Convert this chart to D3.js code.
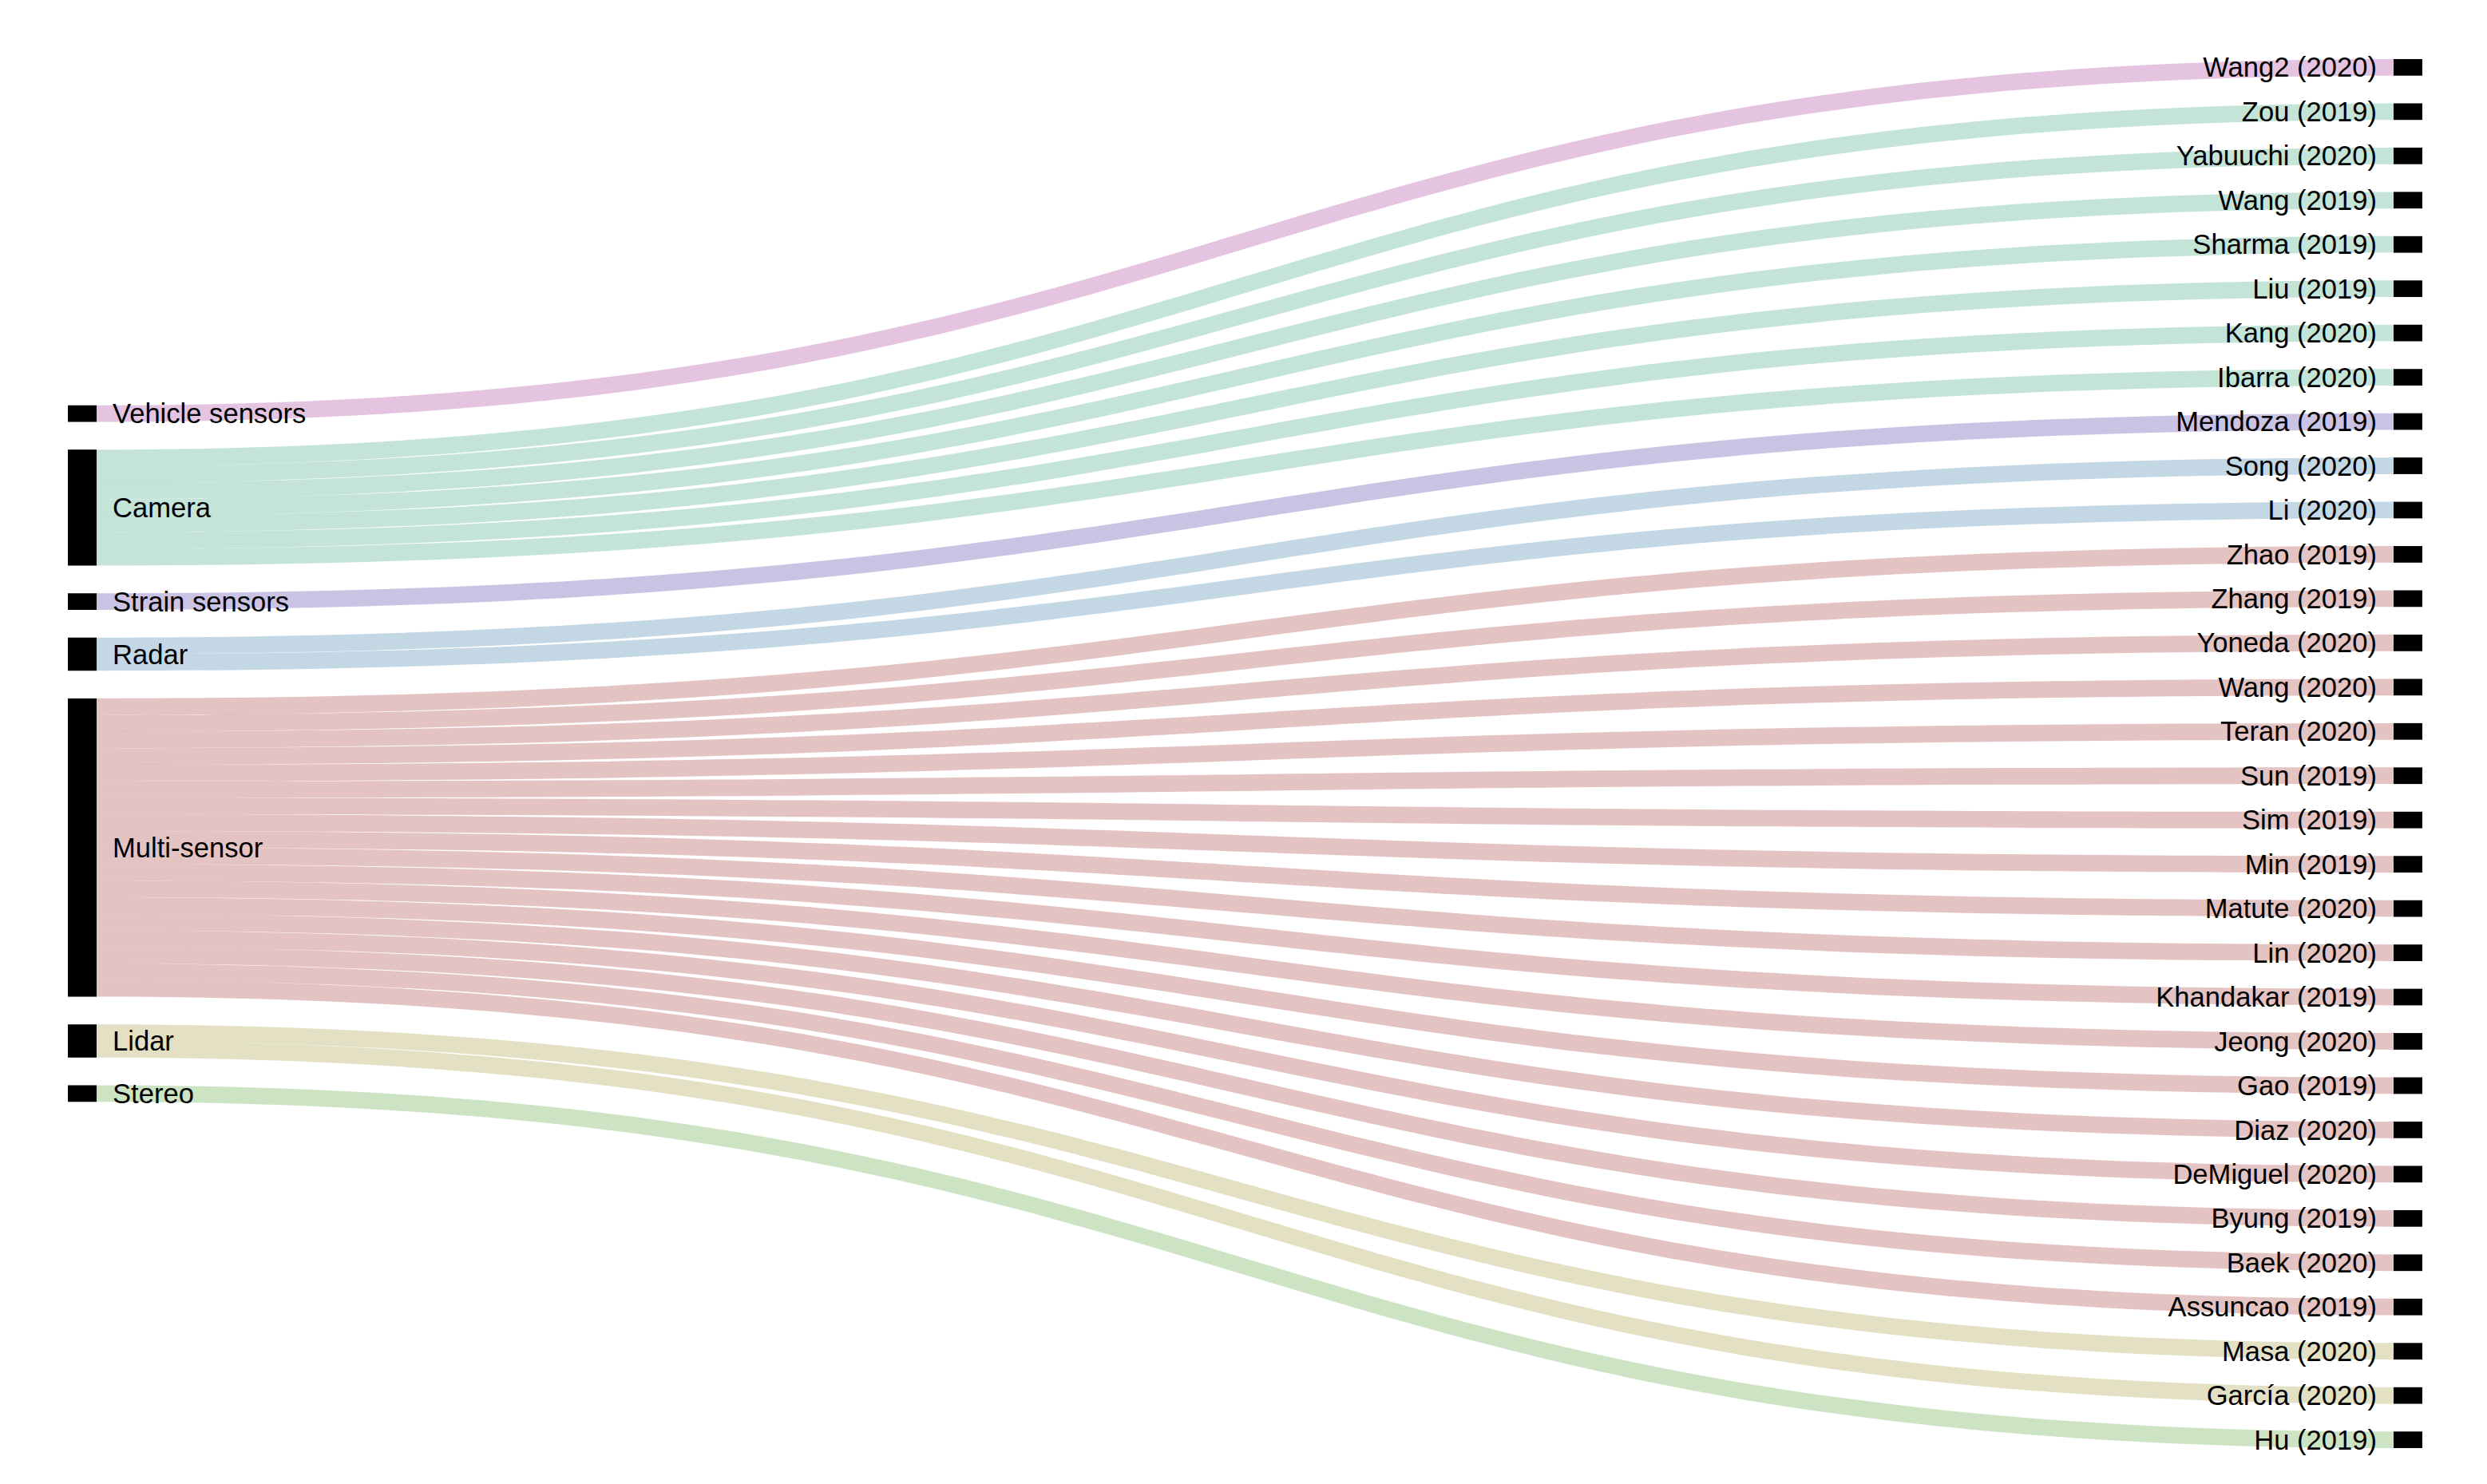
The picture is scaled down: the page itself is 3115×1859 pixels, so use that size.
<!DOCTYPE html>
<html>
<head>
<meta charset="utf-8">
<script src="https://cdn.jsdelivr.net/npm/d3@7"></script>
<style>
  body { margin: 0; background: #fff; }
  text { font-family: "Liberation Sans", Arial, sans-serif; font-size: 34.6px; fill: #000; }
</style>
</head>
<body>
<svg width="3115" height="1859"></svg>
<script>
// sensing technology (left column)
var sources = ["Vehicle sensors", "Camera", "Strain sensors", "Radar", "Multi-sensor", "Lidar", "Stereo"];
var sourceColors = ["#a83a9b", "#3aa57d", "#5237a5", "#3a7aa5", "#a53737", "#a29837", "#58a53a"];

// papers (right column), top to bottom
var papers = [
    "Wang2 (2020)",
    "Zou (2019)", "Yabuuchi (2020)", "Wang (2019)", "Sharma (2019)", "Liu (2019)", "Kang (2020)", "Ibarra (2020)",
    "Mendoza (2019)",
    "Song (2020)", "Li (2020)",
    "Zhao (2019)", "Zhang (2019)", "Yoneda (2020)", "Wang (2020)", "Teran (2020)", "Sun (2019)", "Sim (2019)",
    "Min (2019)", "Matute (2020)", "Lin (2020)", "Khandakar (2019)", "Jeong (2020)", "Gao (2019)", "Diaz (2020)",
    "DeMiguel (2020)", "Byung (2019)", "Baek (2020)", "Assuncao (2019)",
    "Masa (2020)", "García (2020)",
    "Hu (2019)"
];
// index into sources for each paper
var paperSource = [0, 1, 1, 1, 1, 1, 1, 1, 2, 3, 3,
    4, 4, 4, 4, 4, 4, 4, 4, 4, 4, 4, 4, 4, 4, 4, 4, 4, 4,
    5, 5, 6];
var paperValue = [1, 1, 1, 1, 1, 1, 1, 1, 1, 1, 1,
    1, 1, 1, 1, 1, 1, 1, 1, 1, 1, 1, 1, 1, 1, 1, 1, 1, 1,
    1, 1, 1];

var svg = d3.select("svg"),
    top0 = 74,
    bottom0 = 1814,
    nodeWidth = 36,
    nodePad = 34.7;

var x = d3.scaleLinear().domain([0, 1]).range([85, 2998]);

var sourceTotals = sources.map(function(s, i) {
    return d3.sum(paperValue.filter(function(v, j) { return paperSource[j] === i; }));
});

function kFor(vals) {
    return (bottom0 - top0 - (vals.length - 1) * nodePad) / d3.sum(vals);
}
var k = Math.min(kFor(sourceTotals), kFor(paperValue));
var v = d3.scaleLinear().domain([0, 1]).range([0, k]);

// stack a column of values, centred in the vertical extent
function stack(vals) {
    var h = d3.sum(vals, v) + (vals.length - 1) * nodePad;
    var y = (top0 + bottom0) / 2 - h / 2;
    return vals.map(function(d) {
        var n = {y0: y, y1: y + v(d)};
        y = n.y1 + nodePad;
        return n;
    });
}

var leftNodes = stack(sourceTotals).map(function(n, i) {
    n.name = sources[i]; n.x0 = x(0); n.x1 = x(0) + nodeWidth; n.side = 0; return n;
});
var rightNodes = stack(paperValue).map(function(n, i) {
    n.name = papers[i]; n.x0 = x(1); n.x1 = x(1) + nodeWidth; n.side = 1; return n;
});

// links, in target order so that each source stacks them top to bottom
var offsets = leftNodes.map(function(n) { return n.y0; });
var links = papers.map(function(p, j) {
    var s = paperSource[j], t = rightNodes[j];
    var sy0 = offsets[s];
    offsets[s] += v(paperValue[j]);
    return {
        source: s,
        x0: leftNodes[s].x1, x1: t.x0,
        sy0: sy0, sy1: sy0 + v(paperValue[j]),
        ty0: t.y0, ty1: t.y0 + v(paperValue[j])
    };
});

function ribbon(d) {
    var xm = d3.interpolateNumber(d.x0, d.x1)(0.5);
    var p = d3.path();
    p.moveTo(d.x0, d.sy0);
    p.bezierCurveTo(xm, d.sy0, xm, d.ty0, d.x1, d.ty0);
    p.lineTo(d.x1, d.ty1);
    p.bezierCurveTo(xm, d.ty1, xm, d.sy1, d.x0, d.sy1);
    p.closePath();
    return p.toString();
}

svg.append("g")
    .selectAll("path")
    .data(links)
    .enter().append("path")
    .attr("d", ribbon)
    .style("fill", function(d) { return sourceColors[d.source]; })
    .style("fill-opacity", 0.3)
    .style("stroke", "none");

var nodes = leftNodes.concat(rightNodes);

svg.append("g")
    .selectAll("rect")
    .data(nodes)
    .enter().append("rect")
    .attr("x", function(d) { return d.x0; })
    .attr("y", function(d) { return d.y0; })
    .attr("width", function(d) { return d.x1 - d.x0; })
    .attr("height", function(d) { return d.y1 - d.y0; })
    .style("fill", "#000");

svg.append("g")
    .selectAll("text")
    .data(nodes)
    .enter().append("text")
    .attr("x", function(d) { return d.side === 0 ? d.x1 + 20 : d.x0 - 21; })
    .attr("y", function(d) { return (d.y0 + d.y1) / 2; })
    .attr("dy", "0.35em")
    .attr("text-anchor", function(d) { return d.side === 0 ? "start" : "end"; })
    .text(function(d) { return d.name; });
</script>
</body>
</html>
